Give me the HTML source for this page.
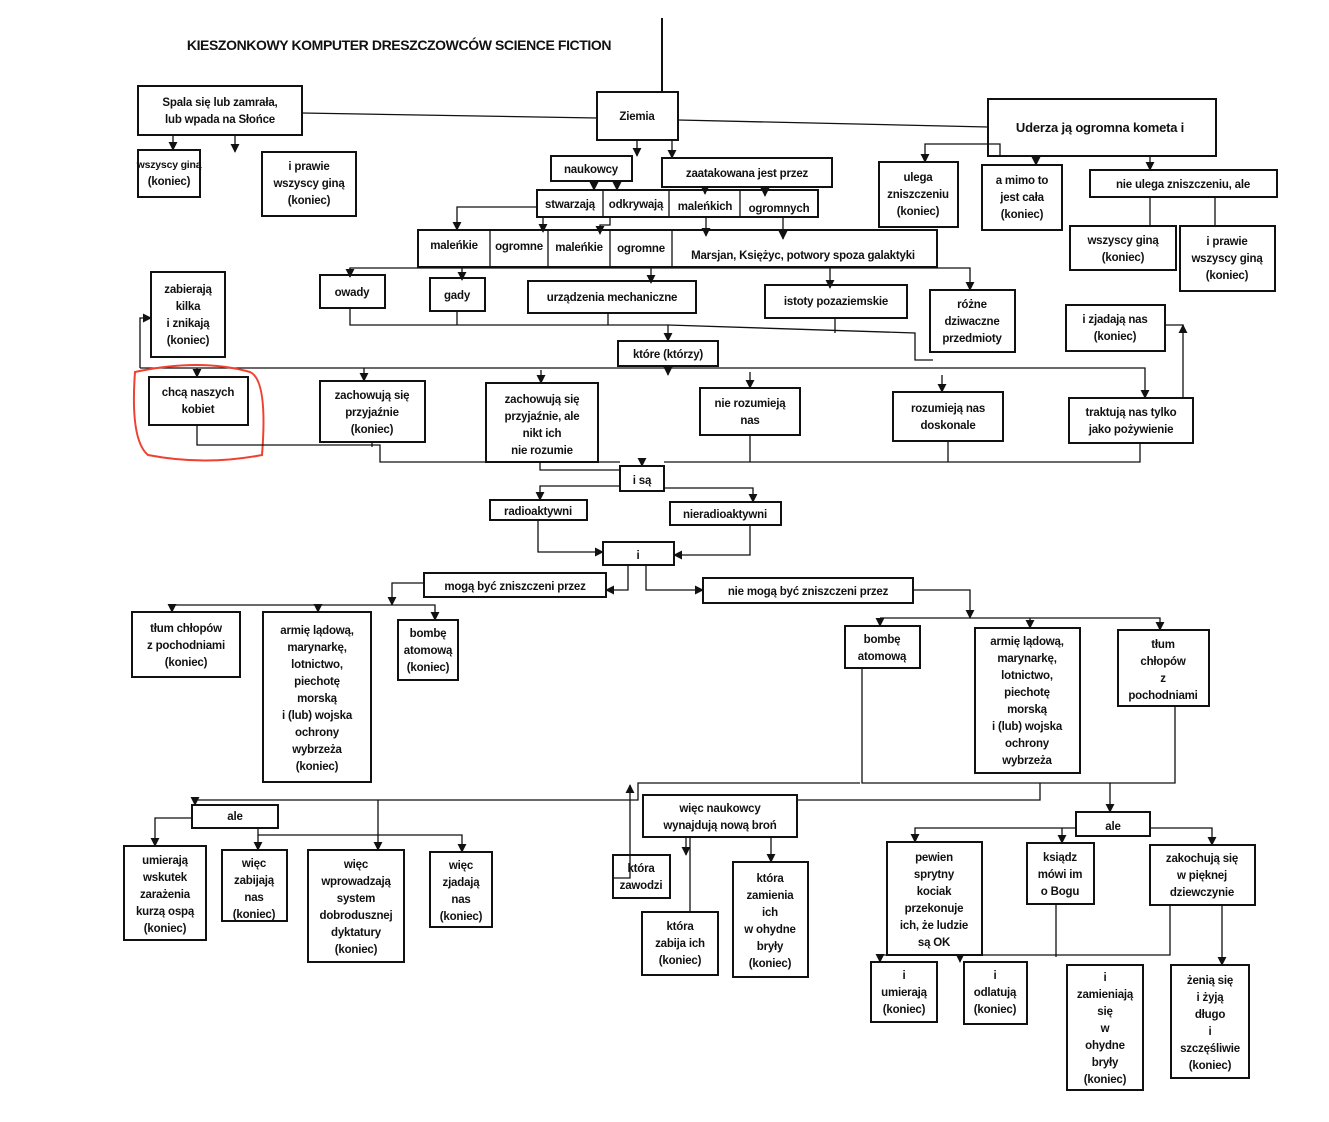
<!DOCTYPE html>
<html><head><meta charset="utf-8"><style>
html,body{margin:0;padding:0;background:#fff}
svg{display:block}
text{font-family:"Liberation Sans",sans-serif;font-size:11.5px;font-weight:bold;fill:#111;text-anchor:middle;letter-spacing:-0.2px}
.b{fill:none;stroke:#111;stroke-width:2}
.l{fill:none;stroke:#111;stroke-width:1.3}
</style></head><body>
<svg width="1329" height="1122" viewBox="0 0 1329 1122" xmlns="http://www.w3.org/2000/svg">
<defs><marker id="a" viewBox="0 0 10 10" refX="9" refY="5" markerWidth="7" markerHeight="7" orient="auto"><path d="M0,0L10,5L0,10z" fill="#111"/></marker></defs>
<text x="399" y="50" style="font-size:14px;letter-spacing:-0.4px">KIESZONKOWY KOMPUTER DRESZCZOWCÓW SCIENCE FICTION</text>
<line class="b" x1="662" y1="18" x2="662" y2="92"/>

<rect class="b" x="138" y="86" width="164" height="49"/>
<text x="220" y="106">Spala się lub zamrała,</text><text x="220" y="123">lub wpada na Słońce</text>
<line class="l" x1="302" y1="113" x2="597" y2="118"/>
<rect class="b" x="597" y="92" width="81" height="48"/>
<text x="637" y="120">Ziemia</text>
<line class="l" x1="678" y1="120" x2="988" y2="127"/>
<rect class="b" x="988" y="99" width="228" height="57"/>
<text x="1100" y="132" style="font-size:13px">Uderza ją ogromna kometa i</text>

<path class="l" d="M173,135V150" marker-end="url(#a)"/>
<path class="l" d="M235,135V152" marker-end="url(#a)"/>
<rect class="b" x="138" y="150" width="62" height="47"/><text x="169" y="168" style="font-size:10.5px">wszyscy giną</text><text x="169" y="185">(koniec)</text>
<rect class="b" x="262" y="152" width="94" height="64"/><text x="309" y="170">i prawie</text><text x="309" y="187">wszyscy giną</text><text x="309" y="204">(koniec)</text>

<path class="l" d="M637,140V156" marker-end="url(#a)"/>
<path class="l" d="M672,140V158" marker-end="url(#a)"/>
<rect class="b" x="551" y="156" width="81" height="25"/><text x="591" y="173">naukowcy</text>
<rect class="b" x="662" y="158" width="170" height="29"/><text x="747" y="177">zaatakowana jest przez</text>

<path class="l" d="M1000,156V144H925V162" marker-end="url(#a)"/>
<path class="l" d="M1036,156V165" marker-end="url(#a)"/>
<path class="l" d="M1150,156V170" marker-end="url(#a)"/>
<rect class="b" x="879" y="162" width="79" height="65"/><text x="918" y="181">ulega</text><text x="918" y="198">zniszczeniu</text><text x="918" y="215">(koniec)</text>
<rect class="b" x="982" y="165" width="80" height="65"/><text x="1022" y="184">a mimo to</text><text x="1022" y="201">jest cała</text><text x="1022" y="218">(koniec)</text>
<rect class="b" x="1090" y="170" width="187" height="27"/><text x="1183" y="188">nie ulega zniszczeniu, ale</text>
<path class="l" d="M1150,197V226"/><path class="l" d="M1215,197V226"/>
<rect class="b" x="1070" y="226" width="106" height="44"/><text x="1123" y="244">wszyscy giną</text><text x="1123" y="261">(koniec)</text>
<rect class="b" x="1180" y="226" width="95" height="65"/><text x="1227" y="245">i prawie</text><text x="1227" y="262">wszyscy giną</text><text x="1227" y="279">(koniec)</text>

<path class="l" d="M594,181V190" marker-end="url(#a)"/>
<path class="l" d="M617,181V190" marker-end="url(#a)"/>
<path class="l" d="M705,187V194" marker-end="url(#a)"/>
<path class="l" d="M765,187V196" marker-end="url(#a)"/>
<rect class="b" x="537" y="190" width="281" height="27"/>
<line class="l" x1="603" y1="190" x2="603" y2="217"/><line class="l" x1="669" y1="190" x2="669" y2="217"/><line class="l" x1="740" y1="190" x2="740" y2="217"/>
<text x="570" y="208">stwarzają</text><text x="636" y="208">odkrywają</text><text x="705" y="210">maleńkich</text><text x="779" y="212">ogromnych</text>

<path class="l" d="M537,207H457V230" marker-end="url(#a)"/>
<path class="l" d="M543,217V232" marker-end="url(#a)"/>
<path class="l" d="M610,217V225H600V234" marker-end="url(#a)"/>
<path class="l" d="M706,217V236" marker-end="url(#a)"/>
<path class="l" d="M783,217V239" marker-end="url(#a)"/>
<rect class="b" x="418" y="230" width="519" height="37"/>
<line class="l" x1="490" y1="230" x2="490" y2="267"/><line class="l" x1="548" y1="230" x2="548" y2="267"/><line class="l" x1="610" y1="230" x2="610" y2="267"/><line class="l" x1="672" y1="230" x2="672" y2="267"/>
<text x="454" y="249">maleńkie</text><text x="519" y="250">ogromne</text><text x="579" y="251">maleńkie</text><text x="641" y="252">ogromne</text><text x="803" y="259">Marsjan, Księżyc, potwory spoza galaktyki</text>

<path class="l" d="M350,277V268H970V290" marker-end="url(#a)"/>
<path class="l" d="M350,268V277" marker-end="url(#a)"/>
<path class="l" d="M462,268V280" marker-end="url(#a)"/>
<path class="l" d="M651,268V283" marker-end="url(#a)"/>
<path class="l" d="M830,268V288" marker-end="url(#a)"/>
<rect class="b" x="320" y="275" width="65" height="33"/><text x="352" y="296">owady</text>
<rect class="b" x="430" y="278" width="55" height="33"/><text x="457" y="299">gady</text>
<rect class="b" x="528" y="281" width="168" height="32"/><text x="612" y="301">urządzenia mechaniczne</text>
<rect class="b" x="765" y="285" width="142" height="33"/><text x="836" y="305">istoty pozaziemskie</text>
<rect class="b" x="930" y="290" width="85" height="62"/><text x="972" y="308">różne</text><text x="972" y="325">dziwaczne</text><text x="972" y="342">przedmioty</text>
<path class="l" d="M350,308V325H668V341" marker-end="url(#a)"/>
<path class="l" d="M457,311V325"/><path class="l" d="M608,313V325"/>
<path class="l" d="M668,325L915,333V360H933"/><path class="l" d="M835,318V333"/>
<rect class="b" x="618" y="341" width="100" height="25"/><text x="668" y="358">które (którzy)</text>

<rect class="b" x="151" y="272" width="74" height="85"/><text x="188" y="293">zabierają</text><text x="188" y="310">kilka</text><text x="188" y="327">i znikają</text><text x="188" y="344">(koniec)</text>
<rect class="b" x="1066" y="305" width="99" height="46"/><text x="1115" y="323">i zjadają nas</text><text x="1115" y="340">(koniec)</text>

<path class="l" d="M140,368H1145V398" marker-end="url(#a)"/>
<path class="l" d="M668,366V375" marker-end="url(#a)"/>
<path class="l" d="M140,368V318H151" marker-end="url(#a)"/>
<path class="l" d="M1183,398V325H1165" />
<path class="l" d="M1183,330V325" marker-end="url(#a)"/>
<path class="l" d="M197,368V377" marker-end="url(#a)"/>
<path class="l" d="M364,368V381" marker-end="url(#a)"/>
<path class="l" d="M541,370V383" marker-end="url(#a)"/>
<path class="l" d="M750,372V388" marker-end="url(#a)"/>
<path class="l" d="M942,375V392" marker-end="url(#a)"/>
<rect class="b" x="149" y="377" width="99" height="48"/><text x="198" y="396">chcą naszych</text><text x="198" y="413">kobiet</text>
<rect class="b" x="320" y="381" width="105" height="61"/><text x="372" y="399">zachowują się</text><text x="372" y="416">przyjaźnie</text><text x="372" y="433">(koniec)</text>
<rect class="b" x="486" y="383" width="112" height="79"/><text x="542" y="403">zachowują się</text><text x="542" y="420">przyjaźnie, ale</text><text x="542" y="437">nikt ich</text><text x="542" y="454">nie rozumie</text>
<rect class="b" x="700" y="388" width="100" height="47"/><text x="750" y="407">nie rozumieją</text><text x="750" y="424">nas</text>
<rect class="b" x="893" y="392" width="110" height="49"/><text x="948" y="412">rozumieją nas</text><text x="948" y="429">doskonale</text>
<rect class="b" x="1069" y="398" width="124" height="45"/><text x="1131" y="416">traktują nas tylko</text><text x="1131" y="433">jako pożywienie</text>
<path d="M135,372Q200,358 250,372Q268,380 262,455Q205,466 148,455Q130,440 135,372Z" fill="none" stroke="#f04030" stroke-width="2"/>
<path class="l" d="M197,425V445H380V462H486"/><path class="l" d="M372,442V447"/>
<path class="l" d="M598,462H620"/><path class="l" d="M664,462H1140V443"/>
<path class="l" d="M750,435V462"/><path class="l" d="M948,441V462"/><path class="l" d="M540,462V470H620"/>
<path class="l" d="M642,462V466" marker-end="url(#a)"/>
<rect class="b" x="620" y="466" width="44" height="25"/><text x="642" y="484">i są</text>
<path class="l" d="M620,486H540V500" marker-end="url(#a)"/>
<path class="l" d="M664,488H753V502" marker-end="url(#a)"/>
<rect class="b" x="490" y="500" width="97" height="20"/><text x="538" y="515">radioaktywni</text>
<rect class="b" x="670" y="502" width="111" height="23"/><text x="725" y="518">nieradioaktywni</text>
<path class="l" d="M538,520V552H603" marker-end="url(#a)"/>
<path class="l" d="M750,525V555H674" marker-end="url(#a)"/>
<rect class="b" x="603" y="542" width="71" height="23"/><text x="638" y="559">i</text>
<path class="l" d="M628,565V590H606" marker-end="url(#a)"/>
<path class="l" d="M646,565V590H703" marker-end="url(#a)"/>
<rect class="b" x="424" y="573" width="182" height="24"/><text x="515" y="590">mogą być zniszczeni przez</text>
<rect class="b" x="703" y="578" width="210" height="25"/><text x="808" y="595">nie mogą być zniszczeni przez</text>

<path class="l" d="M424,583H392V605" marker-end="url(#a)"/>
<path class="l" d="M172,605H435V620" marker-end="url(#a)"/>
<path class="l" d="M172,605V612" marker-end="url(#a)"/>
<path class="l" d="M318,605V612" marker-end="url(#a)"/>
<rect class="b" x="132" y="612" width="108" height="65"/><text x="186" y="632">tłum chłopów</text><text x="186" y="649">z pochodniami</text><text x="186" y="666">(koniec)</text>
<rect class="b" x="263" y="612" width="108" height="170"/>
<text x="317" y="634">armię lądową,</text><text x="317" y="651">marynarkę,</text><text x="317" y="668">lotnictwo,</text><text x="317" y="685">piechotę</text><text x="317" y="702">morską</text><text x="317" y="719">i (lub) wojska</text><text x="317" y="736">ochrony</text><text x="317" y="753">wybrzeża</text><text x="317" y="770">(koniec)</text>
<rect class="b" x="398" y="620" width="60" height="60"/><text x="428" y="637">bombę</text><text x="428" y="654">atomową</text><text x="428" y="671">(koniec)</text>

<path class="l" d="M913,590H970V618" marker-end="url(#a)"/>
<path class="l" d="M880,618H1160V630" marker-end="url(#a)"/>
<path class="l" d="M880,618V626" marker-end="url(#a)"/>
<path class="l" d="M1030,618V628" marker-end="url(#a)"/>
<rect class="b" x="845" y="626" width="75" height="42"/><text x="882" y="643">bombę</text><text x="882" y="660">atomową</text>
<rect class="b" x="975" y="628" width="105" height="145"/>
<text x="1027" y="645">armię lądową,</text><text x="1027" y="662">marynarkę,</text><text x="1027" y="679">lotnictwo,</text><text x="1027" y="696">piechotę</text><text x="1027" y="713">morską</text><text x="1027" y="730">i (lub) wojska</text><text x="1027" y="747">ochrony</text><text x="1027" y="764">wybrzeża</text>
<rect class="b" x="1118" y="630" width="91" height="76"/><text x="1163" y="648">tłum</text><text x="1163" y="665">chłopów</text><text x="1163" y="682">z</text><text x="1163" y="699">pochodniami</text>
<path class="l" d="M862,668V783H1175V706"/>
<path class="l" d="M1110,783V812" marker-end="url(#a)"/>
<path class="l" d="M1040,783V800H797"/>
<path class="l" d="M860,783H638V800H195V805" marker-end="url(#a)"/>
<rect class="b" x="1076" y="812" width="74" height="24"/><text x="1113" y="830">ale</text>

<rect class="b" x="192" y="805" width="86" height="23"/><text x="235" y="820">ale</text>
<path class="l" d="M192,818H155V846" marker-end="url(#a)"/>
<path class="l" d="M258,828V835H378" /><path class="l" d="M258,835V850" marker-end="url(#a)"/>
<path class="l" d="M378,800V850" marker-end="url(#a)"/>
<path class="l" d="M378,835H462V852" marker-end="url(#a)"/>
<rect class="b" x="124" y="846" width="82" height="94"/><text x="165" y="864">umierają</text><text x="165" y="881">wskutek</text><text x="165" y="898">zarażenia</text><text x="165" y="915">kurzą ospą</text><text x="165" y="932">(koniec)</text>
<rect class="b" x="222" y="850" width="65" height="71"/><text x="254" y="867">więc</text><text x="254" y="884">zabijają</text><text x="254" y="901">nas</text><text x="254" y="918">(koniec)</text>
<rect class="b" x="308" y="850" width="96" height="112"/><text x="356" y="868">więc</text><text x="356" y="885">wprowadzają</text><text x="356" y="902">system</text><text x="356" y="919">dobrodusznej</text><text x="356" y="936">dyktatury</text><text x="356" y="953">(koniec)</text>
<rect class="b" x="430" y="852" width="62" height="75"/><text x="461" y="869">więc</text><text x="461" y="886">zjadają</text><text x="461" y="903">nas</text><text x="461" y="920">(koniec)</text>

<rect class="b" x="643" y="795" width="154" height="42"/><text x="720" y="812">więc naukowcy</text><text x="720" y="829">wynajdują nową broń</text>
<path class="l" d="M686,837V855" marker-end="url(#a)"/>
<path class="l" d="M771,837V862" marker-end="url(#a)"/>
<path class="l" d="M690,837V912" />
<path class="l" d="M613,878H630V785" marker-end="url(#a)"/>
<rect class="b" x="613" y="855" width="57" height="43"/><text x="641" y="872">która</text><text x="641" y="889">zawodzi</text>
<rect class="b" x="642" y="912" width="76" height="63"/><text x="680" y="930">która</text><text x="680" y="947">zabija ich</text><text x="680" y="964">(koniec)</text>
<rect class="b" x="733" y="862" width="75" height="115"/><text x="770" y="882">która</text><text x="770" y="899">zamienia</text><text x="770" y="916">ich</text><text x="770" y="933">w ohydne</text><text x="770" y="950">bryły</text><text x="770" y="967">(koniec)</text>

<path class="l" d="M1076,828H915V842" marker-end="url(#a)"/>
<path class="l" d="M1062,828V843" marker-end="url(#a)"/>
<path class="l" d="M1150,828H1212V845" marker-end="url(#a)"/>
<rect class="b" x="887" y="842" width="95" height="113"/><text x="934" y="861">pewien</text><text x="934" y="878">sprytny</text><text x="934" y="895">kociak</text><text x="934" y="912">przekonuje</text><text x="934" y="929">ich, że ludzie</text><text x="934" y="946">są OK</text>
<rect class="b" x="1027" y="843" width="67" height="61"/><text x="1060" y="861">ksiądz</text><text x="1060" y="878">mówi im</text><text x="1060" y="895">o Bogu</text>
<rect class="b" x="1150" y="845" width="105" height="60"/><text x="1202" y="862">zakochują się</text><text x="1202" y="879">w pięknej</text><text x="1202" y="896">dziewczynie</text>
<path class="l" d="M1056,904V957"/><path class="l" d="M1170,905V955H880V962" marker-end="url(#a)"/>
<path class="l" d="M960,955V962" marker-end="url(#a)"/>
<path class="l" d="M1222,905V965" marker-end="url(#a)"/>
<rect class="b" x="871" y="962" width="66" height="60"/><text x="904" y="979">i</text><text x="904" y="996">umierają</text><text x="904" y="1013">(koniec)</text>
<rect class="b" x="964" y="962" width="63" height="62"/><text x="995" y="979">i</text><text x="995" y="996">odlatują</text><text x="995" y="1013">(koniec)</text>
<rect class="b" x="1067" y="965" width="76" height="125"/><text x="1105" y="981">i</text><text x="1105" y="998">zamieniają</text><text x="1105" y="1015">się</text><text x="1105" y="1032">w</text><text x="1105" y="1049">ohydne</text><text x="1105" y="1066">bryły</text><text x="1105" y="1083">(koniec)</text>
<rect class="b" x="1171" y="965" width="78" height="113"/><text x="1210" y="984">żenią się</text><text x="1210" y="1001">i żyją</text><text x="1210" y="1018">długo</text><text x="1210" y="1035">i</text><text x="1210" y="1052">szczęśliwie</text><text x="1210" y="1069">(koniec)</text>
</svg>
</body></html>
